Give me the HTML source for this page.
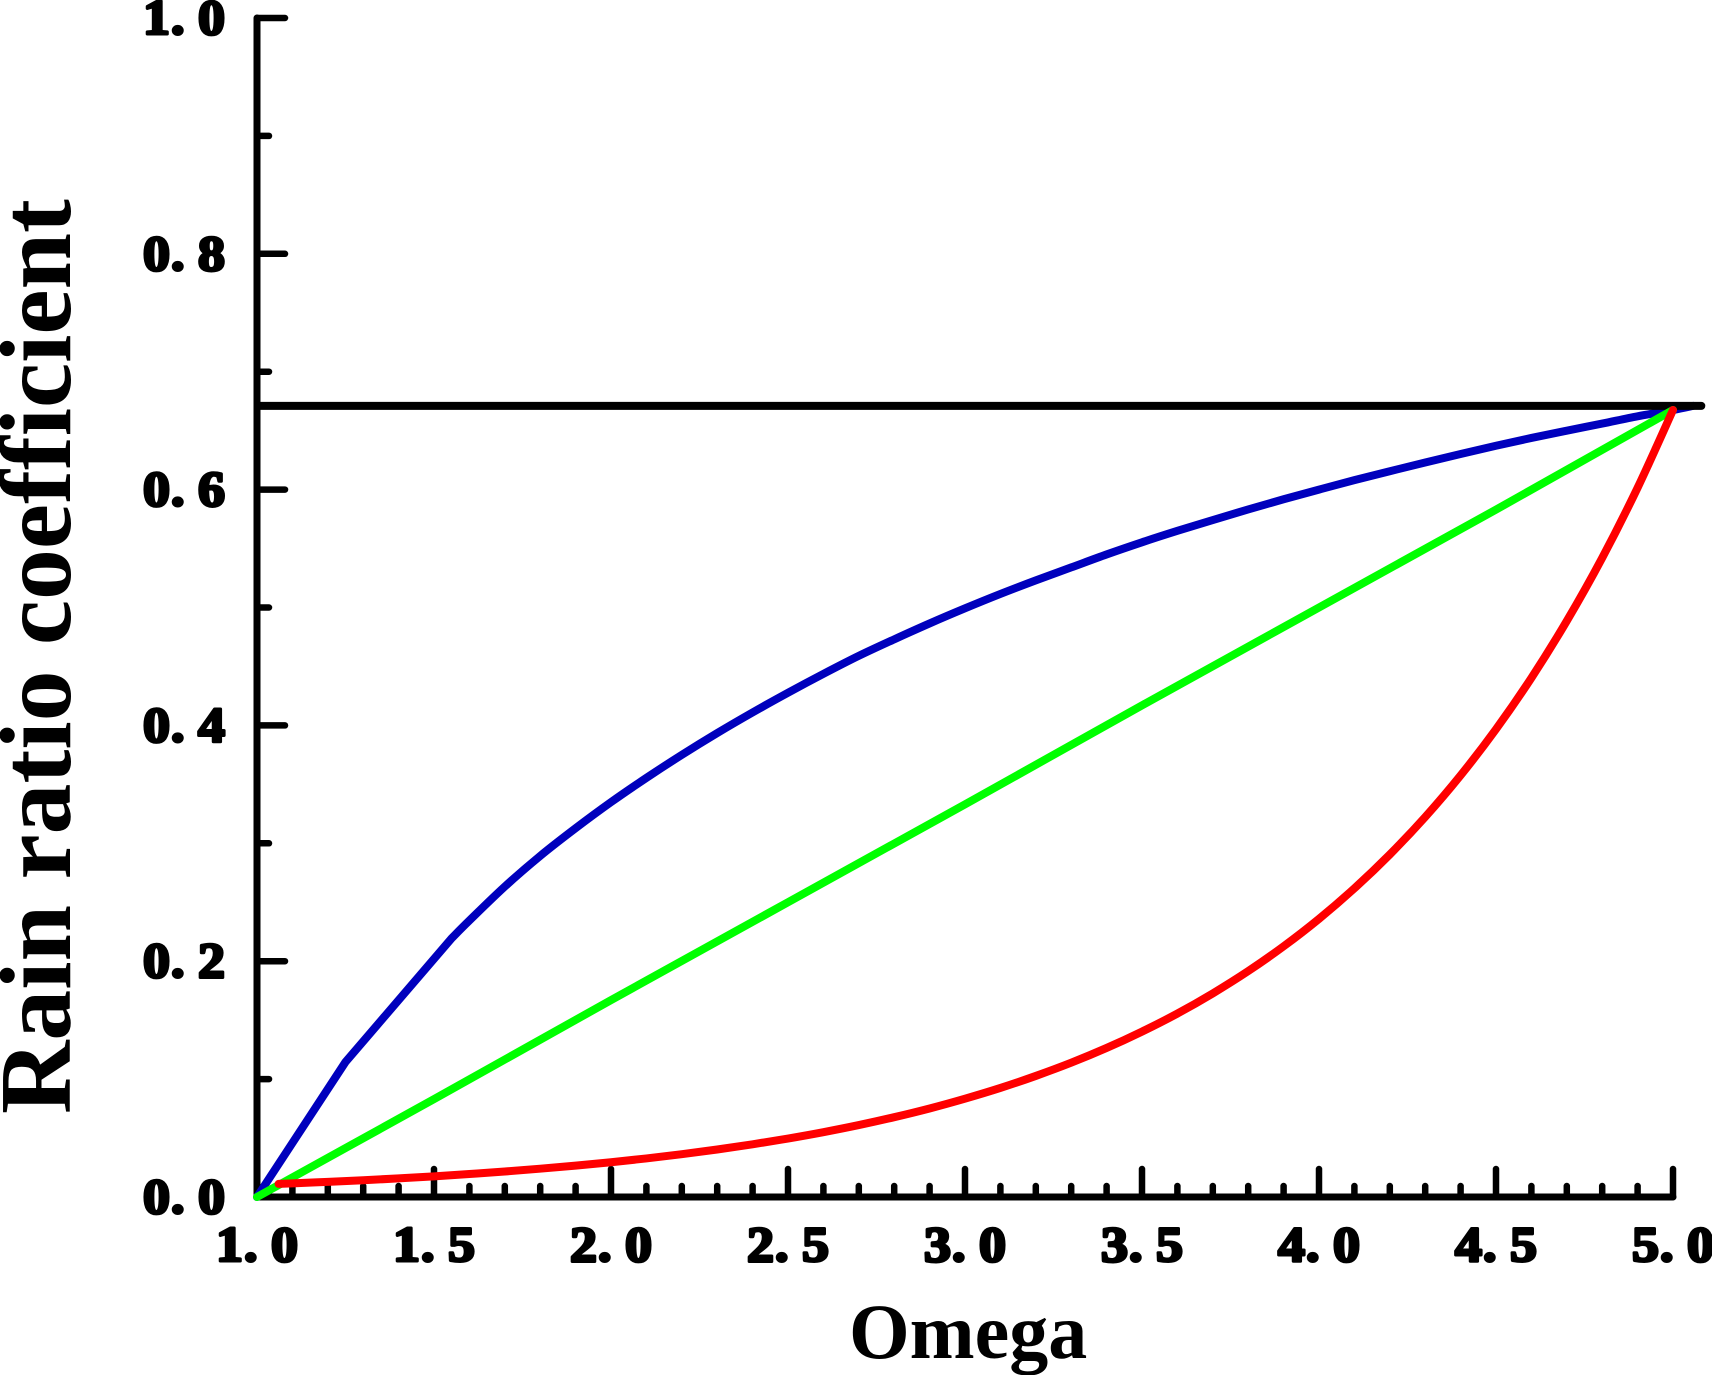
<!DOCTYPE html>
<html>
<head>
<meta charset="utf-8">
<title>Rain ratio coefficient vs Omega</title>
<style>
html,body{margin:0;padding:0;background:#fff;}
svg{display:block;}
.tick-label{font-family:"Liberation Serif",serif;font-weight:bold;font-size:50px;fill:#000;stroke:#000;stroke-width:3px;stroke-linejoin:round;}
.axis-title{font-family:"Liberation Serif",serif;font-weight:bold;fill:#000;}
</style>
</head>
<body>
<svg id="chart" xmlns="http://www.w3.org/2000/svg" width="1712" height="1375" viewBox="0 0 1712 1375">
  <rect width="1712" height="1375" fill="#fff"/>
  <g id="axes"></g>
  <g id="series"></g>
  <text class="axis-title" x="849" y="1358" font-size="78">Omega</text>
  <text class="axis-title" transform="translate(70,1114) rotate(-90)" font-size="101.7">Rain ratio coefficient</text>
</svg>
<script>
const xMajorTicks = [1.0, 1.5, 2.0, 2.5, 3.0, 3.5, 4.0, 4.5, 5.0];
const yMajorTicks = [0.0, 0.2, 0.4, 0.6, 0.8, 1.0];
const yMinorTicks = [0.1, 0.3, 0.5, 0.7, 0.9];
const xMinorTicks = [1.1,1.2,1.3,1.4,1.6,1.7,1.8,1.9,2.1,2.2,2.3,2.4,2.6,2.7,2.8,2.9,3.1,3.2,3.3,3.4,3.6,3.7,3.8,3.9,4.1,4.2,4.3,4.4,4.6,4.7,4.8,4.9];

const referenceX = [1.01, 5.08];
const referenceY = [0.671, 0.671];

const blueX = [1.0, 1.25, 1.55, 1.6, 1.7, 1.8, 1.9, 2.0, 2.1, 2.2, 2.3, 2.4, 2.5, 2.6, 2.7, 2.8, 2.9, 3.0, 3.1, 3.2, 3.3, 3.4, 3.5, 3.6, 3.7, 3.8, 3.9, 4.0, 4.1, 4.2, 4.3, 4.4, 4.5, 4.6, 4.7, 4.8, 4.9, 5.0, 5.057];
const blueY = [0.0, 0.1145, 0.2195, 0.2345, 0.2633, 0.2893, 0.3128, 0.3349, 0.3555, 0.375, 0.3935, 0.411, 0.4277, 0.4437, 0.459, 0.473, 0.4865, 0.4993, 0.5115, 0.523, 0.534, 0.545, 0.5553, 0.565, 0.5742, 0.5832, 0.5918, 0.6, 0.608, 0.6156, 0.623, 0.6302, 0.6372, 0.6438, 0.65, 0.656, 0.6622, 0.6675, 0.671];

const greenX = [1.0, 1.5, 2.0, 2.5, 3.0, 3.5, 4.0, 4.5, 5.0];
const greenY = [0.0, 0.083, 0.167, 0.25, 0.333, 0.417, 0.5, 0.583, 0.6675];

const redX = [1.061, 1.1, 1.2, 1.3, 1.4, 1.5, 1.6, 1.7, 1.8, 1.9, 2.0, 2.1, 2.2, 2.3, 2.4, 2.5, 2.6, 2.7, 2.8, 2.9, 3.0, 3.1, 3.2, 3.3, 3.4, 3.5, 3.6, 3.7, 3.8, 3.9, 4.0, 4.1, 4.2, 4.3, 4.4, 4.5, 4.6, 4.7, 4.8, 4.9, 5.0];
const redY = [0.0111, 0.0116, 0.0128, 0.0142, 0.0158, 0.0175, 0.0195, 0.0216, 0.024, 0.0266, 0.0295, 0.0327, 0.0363, 0.0403, 0.0447, 0.0496, 0.055, 0.061, 0.0677, 0.0751, 0.0834, 0.0925, 0.1027, 0.1139, 0.1264, 0.1403, 0.1556, 0.1727, 0.1916, 0.2126, 0.2359, 0.2618, 0.2905, 0.3223, 0.3576, 0.3968, 0.4403, 0.4886, 0.5421, 0.6016, 0.6675];

const SVG_NS = 'http://www.w3.org/2000/svg';
const axesG = document.getElementById('axes');
const seriesG = document.getElementById('series');

function xScale(v) { return 257 + (v - 1) * 354; }
function yScale(v) { return 1197 - v * 1179; }

function makeLine(x1, y1, x2, y2, w) {
  const l = document.createElementNS(SVG_NS, 'line');
  l.setAttribute('x1', x1);
  l.setAttribute('y1', y1);
  l.setAttribute('x2', x2);
  l.setAttribute('y2', y2);
  l.setAttribute('stroke', '#000');
  l.setAttribute('stroke-width', w);
  l.setAttribute('stroke-linecap', 'round');
  axesG.appendChild(l);
  return l;
}

function makeLabel(left, baseline, txt) {
  const t = document.createElementNS(SVG_NS, 'text');
  const sx = 1.08;
  t.setAttribute('class', 'tick-label');
  t.setAttribute('transform', 'translate(' + left + ' ' + baseline + ') scale(' + sx + ' 1)');
  t.setAttribute('x', '0 ' + (28 / sx).toFixed(2) + ' ' + (55 / sx).toFixed(2));
  t.setAttribute('y', 0);
  t.textContent = txt;
  axesG.appendChild(t);
  return t;
}

const xAxisLine = makeLine(xScale(1), yScale(0), xScale(5), yScale(0), 7);


const yAxisLine = makeLine(xScale(1), yScale(0), xScale(1), yScale(1), 7);



xMajorTicks.forEach(function (v) {
  const tick = makeLine(xScale(v), yScale(0), xScale(v), yScale(0) - 28, 6.5);
  
  
  const label = makeLabel(xScale(v) - 41, 1261, v.toFixed(1));
  
  
});
xMinorTicks.forEach(function (v) {
  const tick = makeLine(xScale(v), yScale(0), xScale(v), yScale(0) - 11, 6.5);
  
  
});
yMajorTicks.forEach(function (v) {
  const tick = makeLine(xScale(1), yScale(v), xScale(1) + 28, yScale(v), 6.5);
  
  
  const label = makeLabel(143, yScale(v) + 16, v.toFixed(1));
  
  
});
yMinorTicks.forEach(function (v) {
  const tick = makeLine(xScale(1), yScale(v), xScale(1) + 12, yScale(v), 6.5);
  
  
});

// Straight segments up to index `from`, Catmull-Rom smoothing after it.
function seriesPath(xs, ys, from) {
  const px = xs.map(xScale);
  const py = ys.map(yScale);
  let d = 'M' + px[0].toFixed(2) + ' ' + py[0].toFixed(2);
  for (let i = 0; i < px.length - 1; i++) {
    if (i < from) {
      d += ' L' + px[i + 1].toFixed(2) + ' ' + py[i + 1].toFixed(2);
      continue;
    }
    const a = Math.max(i - 1, from);
    const b = Math.min(i + 2, px.length - 1);
    const c1x = px[i] + (px[i + 1] - px[a]) / 6;
    const c1y = py[i] + (py[i + 1] - py[a]) / 6;
    const c2x = px[i + 1] - (px[b] - px[i]) / 6;
    const c2y = py[i + 1] - (py[b] - py[i]) / 6;
    d += ' C' + c1x.toFixed(2) + ' ' + c1y.toFixed(2) + ' ' + c2x.toFixed(2) + ' ' + c2y.toFixed(2) + ' ' + px[i + 1].toFixed(2) + ' ' + py[i + 1].toFixed(2);
  }
  return d;
}

function makeSeries(xs, ys, color, from) {
  const p = document.createElementNS(SVG_NS, 'path');
  p.setAttribute('d', seriesPath(xs, ys, from));
  p.setAttribute('fill', 'none');
  p.setAttribute('stroke', color);
  p.setAttribute('stroke-width', 8);
  p.setAttribute('stroke-linecap', 'round');
  p.setAttribute('stroke-linejoin', 'round');
  seriesG.appendChild(p);
  return p;
}

const blueLine = makeSeries(blueX, blueY, '#0000bd', 2);


const blackLine = makeSeries(referenceX, referenceY, '#000000', 1);


const greenLine = makeSeries(greenX, greenY, '#00ff00', 8);


const redLine = makeSeries(redX, redY, '#ff0000', 0);


</script>
</body>
</html>
